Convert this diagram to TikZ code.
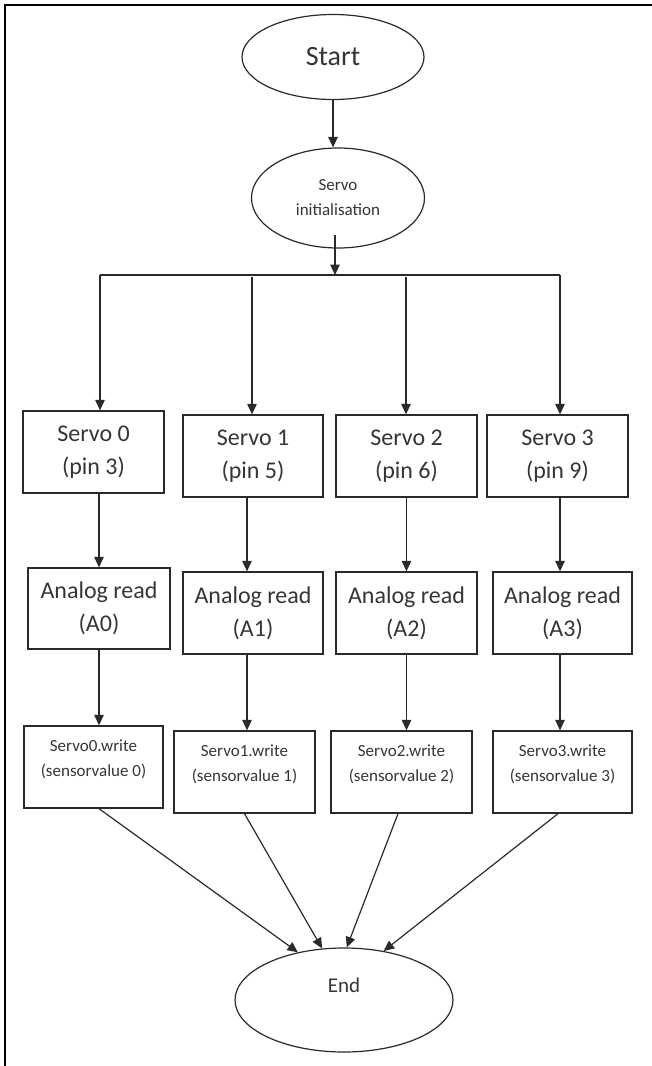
\documentclass[tikz,border=0pt]{standalone}
\usepackage{fontspec}
\setmainfont{Carlito}
\usetikzlibrary{arrows.meta,shapes.geometric}
\definecolor{ink}{HTML}{2A2A2A}
\definecolor{txt}{HTML}{353535}
\begin{document}
\begin{tikzpicture}[x=1pt,y=-1pt,
  frameline/.style={line width=2.6pt,black},
  term/.style={ellipse,draw=ink,line width=1.2pt,inner sep=0pt,text=txt},
  pbox/.style={rectangle,draw=ink,line width=1.3pt,minimum height=82,inner sep=0pt,align=center,text=txt,font=\fontsize{24}{33}\selectfont},
  wbox/.style={rectangle,draw=ink,line width=1.3pt,minimum height=82,inner sep=0pt,text=txt},
  wtxt/.style={align=center,text=txt,font=\fontsize{17}{25}\selectfont,yshift=7.5pt},
  arr/.style={-{Triangle[length=10.5pt,width=9.5pt]},line width=1.2pt,ink},
  line/.style={line width=1.2pt,ink}]
\useasboundingbox (0,0) rectangle (652,1066);
% frame
\draw[frameline] (5,1066) -- (5,5) -- (652,5);
% terminals
\node[term,minimum width=182,minimum height=85,font=\fontsize{28}{32}\selectfont] (start) at (333,57) {Start};
\node[term,minimum width=173,minimum height=100,align=center,font=\fontsize{17}{25}\selectfont] (init) at (338,198) {Servo\\initialisation};
\node[term,minimum width=218,minimum height=104,label={[text=txt,font=\fontsize{21}{24}\selectfont,yshift=15pt]center:End}] (end) at (344,1000) {};
% bar
\coordinate (bar) at (335,275);
\coordinate (c0) at (100,275);
\coordinate (c1) at (252,277);
\coordinate (c2) at (406,277);
\coordinate (c3) at (560,275);
% servo boxes
\node[pbox,minimum width=141] (s0) at (93.5,452) {Servo 0\\(pin 3)};
\node[pbox,minimum width=140] (s1) at (253,456) {Servo 1\\(pin 5)};
\node[pbox,minimum width=141] (s2) at (406.5,456) {Servo 2\\(pin 6)};
\node[pbox,minimum width=141] (s3) at (557.5,456) {Servo 3\\(pin 9)};
% analog boxes
\node[pbox,minimum width=142,minimum height=81] (a0) at (99,608.5) {Analog read\\(A0)};
\node[pbox,minimum width=140] (a1) at (253,613) {Analog read\\(A1)};
\node[pbox,minimum width=141] (a2) at (406.5,613) {Analog read\\(A2)};
\node[pbox,minimum width=139] (a3) at (562.5,613) {Analog read\\(A3)};
% write boxes
\node[wbox,minimum width=139,label={[wtxt]center:{Servo0.write\\(sensorvalue 0)}}] (w0) at (93.5,767) {};
\node[wbox,minimum width=141,label={[wtxt]center:{Servo1.write\\(sensorvalue 1)}}] (w1) at (244.5,772) {};
\node[wbox,minimum width=141,label={[wtxt]center:{Servo2.write\\(sensorvalue 2)}}] (w2) at (401.5,772) {};
\node[wbox,minimum width=139,label={[wtxt]center:{Servo3.write\\(sensorvalue 3)}}] (w3) at (562.5,772) {};
% connectors top
\draw[arr] (start.south) -- (start.south |- init.north);
\draw[arr] ([xshift=-3pt,yshift=-37pt]init.center) -- (bar);
\draw[line] (c0) -- (c3);
\draw[arr] (c0) -- (c0 |- s0.north);
\draw[arr] (c1) -- (c1 |- s1.north);
\draw[arr] (c2) -- (c2 |- s2.north);
\draw[arr] (c3) -- (c3 |- s3.north);
% servo -> analog
\draw[arr] (a0.north |- s0.south) -- (a0.north);
\draw[arr] ([xshift=-6pt]s1.south) -- ([xshift=-6pt]a1.north);
\draw[arr] (s2.south) -- (a2.north);
\draw[arr] ([xshift=2.5pt]s3.south) -- ([xshift=-2.5pt]a3.north);
% analog -> write
\draw[arr] (a0.south) -- (a0.south |- w0.north);
\draw[arr] ([xshift=-6pt]a1.south) -- ([xshift=2.5pt]w1.north);
\draw[arr] (a2.south) -- ([xshift=5pt]w2.north);
\draw[arr] ([xshift=-2.5pt]a3.south) -- ([xshift=-2.5pt]w3.north);
% write -> end
\draw[arr] ([xshift=5.5pt]w0.south) -- (end.134);
\draw[arr] (w1.south) -- (end.113);
\draw[arr] ([xshift=-3.5pt]w2.south) -- (end.87);
\draw[arr] ([xshift=-4.5pt]w3.south) -- (end.51);
\end{tikzpicture}
\end{document}
